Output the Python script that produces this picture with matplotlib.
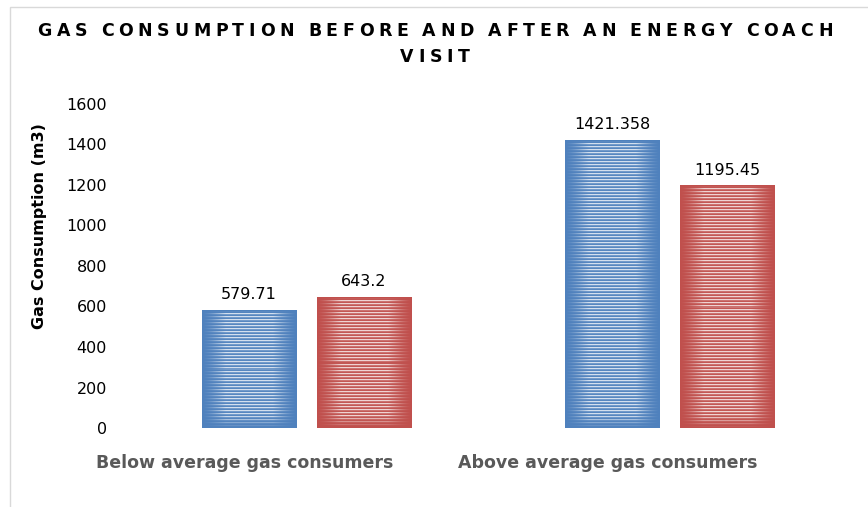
import numpy as np
import matplotlib
matplotlib.use('Agg')
import matplotlib.pyplot as plt
from matplotlib.patches import Rectangle
from matplotlib.colors import to_rgb

# data
categories = ['Below average gas consumers', 'Above average gas consumers']
before = [579.71, 1421.358]
after = [643.2, 1195.45]
yticks = [0, 200, 400, 600, 800, 1000, 1200, 1400, 1600]
title_lines = ['GAS CONSUMPTION BEFORE AND AFTER AN ENERGY COACH', 'VISIT']

BLUE = '#4F81BD'
RED = '#C0504D'
W, H = 868, 507


def striped(ax, bar, color):
    # Excel-like horizontal light stripes, brightest in the middle of the bar
    x0, y0 = bar.get_x(), bar.get_y()
    w, h = bar.get_width(), bar.get_height()
    (px0, py0), (px1, py1) = ax.transData.transform([(x0, y0), (x0 + w, y0 + h)])
    nx, ny = max(int(round(px1 - px0)), 2), max(int(round(py1 - py0)), 2)
    base = np.array(to_rgb(color))
    xs = np.linspace(0, 1, nx)
    hprof = np.clip(np.sin(np.pi * xs) * 1.4, 0, 1) ** 1.5
    rows = np.arange(ny)
    vprof = np.clip((ny - 1 - rows) / 12.0, 0, 1) * np.clip(rows / 3.0, 0, 1)
    stripe = np.where(rows % 3 == 0, 0.75, np.where(rows % 3 == 1, 0.2, 0.05))
    inten = (stripe * vprof)[:, None] * hprof[None, :]
    img = base[None, None, :] + (1 - base[None, None, :]) * inten[:, :, None]
    ax.imshow(img, extent=(x0, x0 + w, y0, y0 + h), aspect='auto',
              interpolation='none', origin='upper', zorder=3)


def glyph_widths(fig, s, **kw):
    r = fig.canvas.get_renderer()
    out = []
    for ch in s:
        if ch == ' ':
            out.append(0.28 * kw['fontsize'] * 100 / 72)
            continue
        t = fig.text(0, 0, ch, **kw)
        out.append(t.get_window_extent(r).width)
        t.remove()
    return out


def tracked_text(fig, xc, y, s, track, **kw):
    # letter-spaced text, placed one glyph at a time (pixel coords)
    widths = glyph_widths(fig, s, **kw)
    total = sum(widths) + track * (len(s) - 1)
    xp = xc - total / 2
    for ch, wd in zip(s, widths):
        if ch != ' ':
            fig.text(xp / W, 1 - y / H, ch, ha='left', va='center', **kw)
        xp += wd + track


fig = plt.figure(figsize=(W / 100, H / 100), dpi=100)
fig.patches.append(Rectangle((10 / W, -0.1), 1.2, 1 - 7 / H + 0.1, transform=fig.transFigure,
                             fill=False, edgecolor='#d9d9d9', linewidth=1))

ax = fig.add_axes([125 / W, 1 - 428 / H, (851 - 125) / W, (428 - 104) / H])
x = np.arange(len(categories))
bw = 0.259
off = 0.158
b1 = ax.bar(x - off, before, bw, color=BLUE, zorder=2)
b2 = ax.bar(x + off, after, bw, color=RED, zorder=2)
ax.set_xlim(-0.5, 1.5)
ax.set_ylim(0, 1600)

for bars, col, vals in [(b1, BLUE, before), (b2, RED, after)]:
    for bar, v in zip(bars, vals):
        striped(ax, bar, col)
        ax.annotate(str(v), (bar.get_x() + bar.get_width() / 2, v), xytext=(0, 6),
                    textcoords='offset points', ha='center', va='bottom',
                    fontsize=11.5, color='black')
ax.set_xlim(-0.5, 1.5)
ax.set_ylim(0, 1600)

for s in ax.spines.values():
    s.set_visible(False)
ax.set_yticks(yticks)
ax.set_yticklabels([str(v) for v in yticks], fontsize=11.5)
ax.set_xticks(x)
ax.set_xticklabels([])
ax.tick_params(axis='y', length=0, pad=13)
ax.tick_params(axis='x', length=0)

# category labels sit left of the bar groups in the original
for i, c in enumerate(categories):
    ax.annotate(c, (i, 0), xytext=(-62, -35), textcoords='offset pixels',
                ha='center', va='center', fontsize=12.5, fontweight='bold',
                color='#595959', annotation_clip=False)

fig.text(40 / W, 1 - 226 / H, 'Gas Consumption (m3)', rotation=90, ha='center', va='center',
         fontsize=11.5, fontweight='bold')

tkw = dict(fontsize=12.5, fontweight='bold')
nat = sum(glyph_widths(fig, title_lines[0], **tkw))
track = (795 - nat) / (len(title_lines[0]) - 1)
tracked_text(fig, 435, 31, title_lines[0], track, **tkw)
tracked_text(fig, 435, 56.5, title_lines[1], track, **tkw)

fig.savefig('out.png', dpi=100)
